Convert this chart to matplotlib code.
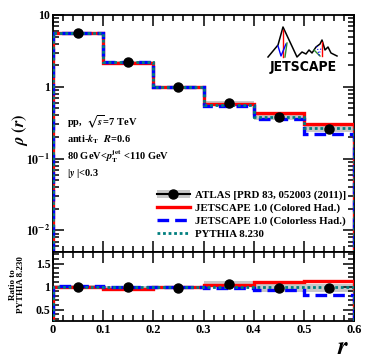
import matplotlib
matplotlib.use("Agg")
import matplotlib.pyplot as plt
import numpy as np
from matplotlib.lines import Line2D
from matplotlib.patches import Patch
from matplotlib.ticker import MultipleLocator, LogLocator, FixedLocator, NullFormatter, FuncFormatter

plt.rcParams['font.family'] = ['Liberation Serif', 'DejaVu Serif']
plt.rcParams['font.weight'] = 'bold'
plt.rcParams['mathtext.fontset'] = 'stix'

# ---------------- data ----------------
edges = [0.0, 0.1, 0.2, 0.3, 0.4, 0.5, 0.6]
r_centers = [0.05, 0.15, 0.25, 0.35, 0.45, 0.55]
atlas = [5.6, 2.23, 0.98, 0.60, 0.375, 0.258]
atlas_relerr = [0.03, 0.03, 0.03, 0.06, 0.09, 0.09]
colored = [5.6, 2.15, 1.0, 0.58, 0.425, 0.30]
colorless = [5.65, 2.23, 1.0, 0.545, 0.355, 0.22]
pythia = [5.6, 2.25, 1.0, 0.56, 0.385, 0.265]

ratio_atlas = [1.0, 0.99, 0.97, 1.05, 0.97, 0.97]
ratio_atlas_err = [0.03, 0.03, 0.03, 0.06, 0.09, 0.09]
ratio_colored = [1.0, 0.95, 1.0, 1.036, 1.10, 1.125]
ratio_colorless = [1.02, 0.99, 1.0, 0.965, 0.92, 0.82]
ratio_pythia = [1.0, 1.0, 1.0, 1.0, 1.0, 1.0]

xticks = [0, 0.1, 0.2, 0.3, 0.4, 0.5, 0.6]
xtick_labels = ['0', '0.1', '0.2', '0.3', '0.4', '0.5', '0.6']
ratio_yticks = [0.5, 1.0, 1.5]
ratio_ytick_labels = ['0.5', '1', '1.5']

legend_labels = ['ATLAS [PRD 83, 052003 (2011)]', 'JETSCAPE 1.0 (Colored Had.)',
                 'JETSCAPE 1.0 (Colorless Had.)', 'PYTHIA 8.230']

# ---------------- figure ----------------
W, H = 374, 359
fig = plt.figure(figsize=(W / 100, H / 100), dpi=100)

def px_axes(l, t, r, b):
    return fig.add_axes([l / W, 1 - b / H, (r - l) / W, (b - t) / H])

ax = px_axes(53, 15, 354, 252)
axr = px_axes(53, 252, 354, 321)

RED = '#ff0000'
BLUE = '#0000ff'
TEAL = '#007f7f'
GRAY = '#c8c8c8'
DASH = (0, (3.5, 1.8))
DOT = (0, (1, 1))

edges_a = np.array(edges)
width = np.diff(edges_a)

def draw_panel(a, vals_atlas, errs, c_vals, cl_vals, p_vals, relative):
    va = np.array(vals_atlas)
    e = np.array(errs)
    err = va * e if relative else e
    a.bar(edges_a[:-1], 2 * err, bottom=va - err, width=width, align='edge',
          color=GRAY, edgecolor='none', zorder=1)
    a.stairs(c_vals, edges, color=RED, lw=2.4, zorder=3)
    a.stairs(cl_vals, edges, color=BLUE, lw=2.4, ls=DASH, zorder=4)
    a.stairs(p_vals, edges, color=TEAL, lw=2.0, ls=DOT, zorder=5)
    a.errorbar(r_centers, va, yerr=err * 0.3, fmt='o', color='black', ms=6.5,
               elinewidth=1.2, capsize=0, zorder=6)

draw_panel(ax, atlas, atlas_relerr, colored, colorless, pythia, True)
draw_panel(axr, ratio_atlas, ratio_atlas_err, ratio_colored, ratio_colorless, ratio_pythia, False)

# main axes
ax.set_yscale('log')
ax.set_ylim(0.005, 10)
ax.set_xlim(0, 0.6)
ax.xaxis.set_major_locator(MultipleLocator(0.1))
ax.xaxis.set_minor_locator(MultipleLocator(0.02))
ax.xaxis.set_major_formatter(NullFormatter())
ax.yaxis.set_major_locator(FixedLocator([0.01, 0.1, 1, 10]))
ax.yaxis.set_minor_locator(LogLocator(base=10, subs=np.arange(2, 10)))
ax.yaxis.set_minor_formatter(NullFormatter())
def ylab(v, pos):
    if abs(v - 10) < 1e-9:
        return '10'
    if abs(v - 1) < 1e-9:
        return '1'
    return r'$\mathbf{10^{%d}}$' % int(round(np.log10(v)))
ax.yaxis.set_major_formatter(FuncFormatter(ylab))

for a in (ax, axr):
    a.tick_params(which='both', direction='in', top=True, right=True, width=1.1)
    a.tick_params(which='major', length=8, labelsize=8.5, pad=2)
    a.tick_params(which='minor', length=4)
    for s in a.spines.values():
        s.set_linewidth(1.3)
    for lab in a.get_xticklabels() + a.get_yticklabels():
        lab.set_fontweight('bold')

axr.set_xlim(0, 0.6)
axr.set_ylim(0.25, 1.75)
axr.set_xticks(xticks)
axr.set_xticklabels(xtick_labels, fontweight='bold', fontsize=9)
axr.xaxis.set_minor_locator(MultipleLocator(0.02))
axr.set_yticks(ratio_yticks)
axr.set_yticklabels(ratio_ytick_labels, fontweight='bold', fontsize=8.5)
axr.yaxis.set_minor_locator(MultipleLocator(0.1))

fig.text(20 / W, 1 - 130 / H, r'$\rho\ (r)$', fontsize=12, rotation=90, ha='center', va='center')
fig.text(17 / W, 1 - 285 / H, 'Ratio to\nPYTHIA 8.230', fontsize=6.5, fontweight='bold',
         rotation=90, ha='center', va='center', linespacing=1.0, multialignment='center')
fig.text(343 / W, 1 - 348 / H, r'$\boldsymbol{r}$', fontsize=18, ha='center', va='center')

# annotations
tx = 67 / W
fs = 7.5
fig.text(tx, 1 - 122 / H, r'pp,  $\sqrt{s}$=7 TeV', fontsize=fs, fontweight='bold', va='center')
fig.text(tx, 1 - 139 / H, r'anti-$k_{\mathrm{T}}$  $R$=0.6', fontsize=fs, fontweight='bold', va='center')
fig.text(tx, 1 - 157 / H, r'80 GeV<$p_{\mathrm{T}}^{\mathrm{jet}}$ <110 GeV', fontsize=fs, fontweight='bold', va='center')
fig.text(tx, 1 - 174 / H, r'|$y$ |<0.3', fontsize=fs, fontweight='bold', va='center')

# legend
handles = [
    (Patch(facecolor=GRAY, edgecolor='none'),
     Line2D([], [], color='black', marker='o', ms=6.5, lw=1.5)),
    Line2D([], [], color=RED, lw=2.4),
    Line2D([], [], color=BLUE, lw=2.4, ls=DASH),
    Line2D([], [], color=TEAL, lw=2.0, ls=DOT),
]
leg = ax.legend(handles, legend_labels, loc='upper left',
                bbox_to_anchor=((157 - 53) / 301, 1 - (190 - 15) / 237),
                frameon=False, fontsize=7.8, handlelength=3.0, handletextpad=0.5,
                labelspacing=0.3, borderaxespad=0, borderpad=0)
for t in leg.get_texts():
    t.set_fontweight('bold')

# JETSCAPE logo
lax = fig.add_axes([0, 0, 1, 1], zorder=10)
lax.set_xlim(0, W)
lax.set_ylim(H, 0)
lax.axis('off')
lax.plot([268, 278, 283, 290, 297, 302, 306, 309, 312, 316, 320, 322, 325, 328, 331, 337],
         [57, 45, 27, 42, 57, 52, 54, 50, 53, 47, 44, 40, 50, 47, 53, 56], color='black', lw=1.1)
lax.plot([283, 283], [30, 57], color=RED, lw=1.0)
lax.plot([278, 281, 286], [46, 56, 44], color=BLUE, lw=1.0)
lax.plot([285, 287], [57, 43], color='#2e8b2e', lw=1.0)
lax.plot([322, 322], [42, 56], color=RED, lw=1.0)
lax.plot([314, 320], [50, 56], color='#2e8b2e', lw=1.0)
lax.plot([317, 319, 321], [46, 55, 48], color=BLUE, lw=0.8, ls=':')
lax.text(303, 67, 'JETSCAPE', fontsize=10, fontweight='bold', family='DejaVu Sans',
         ha='center', va='center', fontstretch='condensed')

fig.savefig('out.png', dpi=100)
